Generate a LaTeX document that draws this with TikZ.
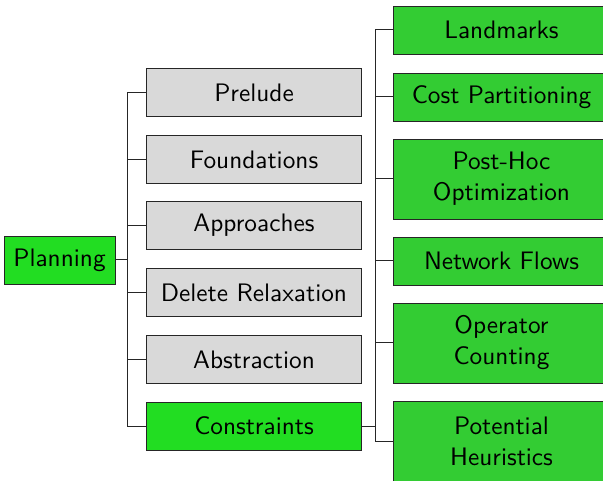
\documentclass[tikz,border=0pt]{standalone}
\usepackage{fontspec}
\setsansfont{lmsans10-regular.otf}
\usepackage{tikz}
\definecolor{rootgreen}{HTML}{22DD22}
\definecolor{leafgreen}{HTML}{33CC33}
\definecolor{boxgray}{HTML}{D9D9D9}
\begin{document}
\begin{tikzpicture}[x=1pt,y=-1pt,
  box/.style={draw=black!85,line width=0.9pt,rectangle,inner sep=0pt,align=center,
    font=\sffamily\fontsize{25.3}{31}\selectfont,minimum height=48pt},
  rootbox/.style={box,fill=rootgreen,minimum width=111pt},
  midbox/.style={box,fill=boxgray,minimum width=215pt},
  hibox/.style={box,fill=rootgreen,minimum width=215pt},
  leafbox/.style={box,fill=leafgreen,minimum width=217pt},
  tallbox/.style={leafbox,minimum height=80pt},
  edge/.style={draw=black!85,line width=1pt}]
\useasboundingbox (0,0) rectangle (603,481);
\begin{scope}
\clip (0,0) rectangle (603,481);
\node[rootbox] (planning) at (59.5,260) {Planning};
\node[midbox] (prelude) at (254,92.5) {Prelude};
\node[midbox] (found) at (254,159.5) {Foundations};
\node[midbox] (appr) at (254,225.5) {Approaches};
\node[midbox] (delrel) at (254,292.5) {Delete Relaxation};
\node[midbox] (abstr) at (254,359.5) {Abstraction};
\node[hibox] (constr) at (254,426) {Constraints};
\node[leafbox] (landm) at (501.5,30) {Landmarks};
\node[leafbox] (costp) at (501.5,97) {Cost Partitioning};
\node[tallbox] (posthoc) at (501.5,179) {Post-Hoc\\Optimization};
\node[leafbox] (netflow) at (501.5,261) {Network Flows};
\node[tallbox] (opcount) at (501.5,343) {Operator\\Counting};
\node[tallbox] (potential) at (501.5,441.5) {Potential\\Heuristics};
\foreach \c in {prelude,found,appr,delrel,abstr,constr}
  \draw[edge] (planning.east) -- ([xshift=12.5pt]planning.east) |- (\c.west);
\foreach \c in {landm,costp,posthoc,netflow,opcount,potential}
  \draw[edge] (constr.east) -- ([xshift=14pt]constr.east) |- (\c.west);
\end{scope}
\end{tikzpicture}
\end{document}
